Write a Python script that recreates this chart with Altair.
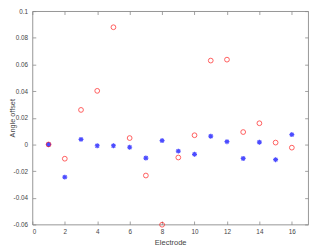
import altair as alt
import pandas as pd

electrodes = list(range(1, 17))
red_offsets = [0.0, -0.0107, 0.0259, 0.0402, 0.0879, 0.0048, -0.0233, -0.0602,
               -0.0098, 0.0069, 0.0629, 0.0636, 0.0093, 0.0159, 0.0014, -0.0024]
blue_offsets = [0.0, -0.0245, 0.0038, -0.0010, -0.0010, -0.0021, -0.0102, 0.0029,
                -0.0050, -0.0074, 0.0062, 0.0021, -0.0105, 0.0017, -0.0114, 0.0074]
x_ticks = [0, 2, 4, 6, 8, 10, 12, 14, 16]
y_ticks = [-0.06, -0.04, -0.02, 0, 0.02, 0.04, 0.06, 0.08, 0.1]

red_df = pd.DataFrame({"electrode": electrodes, "offset": red_offsets})
blue_df = pd.DataFrame({"electrode": electrodes, "offset": blue_offsets})

xscale = alt.Scale(domain=[0, 17], nice=False, zero=False)
yscale = alt.Scale(domain=[-0.06, 0.1], nice=False, zero=False)

FONT = "Liberation Sans"
AX = "#888888"
TXT = "#444444"
label_expr = "datum.value + ''"

# main axes with labels and titles
x_main = alt.Axis(values=x_ticks, orient="bottom", ticks=False, domain=False, grid=False,
                  labelExpr=label_expr, labelFont=FONT, labelFontSize=6.5, labelColor=TXT,
                  labelPadding=4, title="Electrode", titleFont=FONT, titleFontSize=7.7,
                  titleFontWeight="normal", titleColor=TXT, titlePadding=4)
y_main = alt.Axis(values=y_ticks, orient="left", ticks=False, domain=False, grid=False,
                  labelExpr=label_expr, labelFont=FONT, labelFontSize=6.5, labelColor=TXT,
                  labelPadding=5, title="Angle offset", titleFont=FONT, titleFontSize=7.5,
                  titleFontWeight="normal", titleColor=TXT, titleX=-20.5,
                  titleBaseline="middle")

def tick_axis(values, orient):
    return alt.Axis(values=values, orient=orient, ticks=True, tickSize=3.5, tickColor=AX,
                    tickWidth=0.8, domain=False, labels=False, grid=False, title=None,
                    offset=-3.5)

red = alt.Chart(red_df).mark_point(shape="circle", filled=False, color="#ff0000",
                                    size=24, strokeWidth=0.9).encode(
    x=alt.X("electrode:Q", scale=xscale, axis=x_main),
    y=alt.Y("offset:Q", scale=yscale, axis=y_main),
)

asterisk = "M-1,0L1,0M0,-1L0,1M-0.72,-0.72L0.72,0.72M-0.72,0.72L0.72,-0.72"
blue = alt.Chart(blue_df).mark_point(shape=asterisk, filled=False, color="#0000ff",
                                      size=26, strokeWidth=1.2).encode(
    x=alt.X("electrode:Q", scale=xscale, axis=tick_axis(x_ticks, "bottom")),
    y=alt.Y("offset:Q", scale=yscale, axis=tick_axis(y_ticks, "left")),
)

ghost = alt.Chart(red_df).mark_point(opacity=0).encode(
    x=alt.X("electrode:Q", scale=xscale, axis=tick_axis(x_ticks, "top")),
    y=alt.Y("offset:Q", scale=yscale, axis=tick_axis(y_ticks, "right")),
)

chart = alt.layer(ghost, blue, red).resolve_axis(x="independent", y="independent").properties(
    width=283, height=219,
    autosize=alt.AutoSizeParams(type="none"),
    padding={"left": 25, "top": 0, "right": 2, "bottom": 22},
).configure_view(stroke=AX, strokeWidth=0.9)

chart.save("out.html", embed_options={"renderer": "svg", "actions": False})
